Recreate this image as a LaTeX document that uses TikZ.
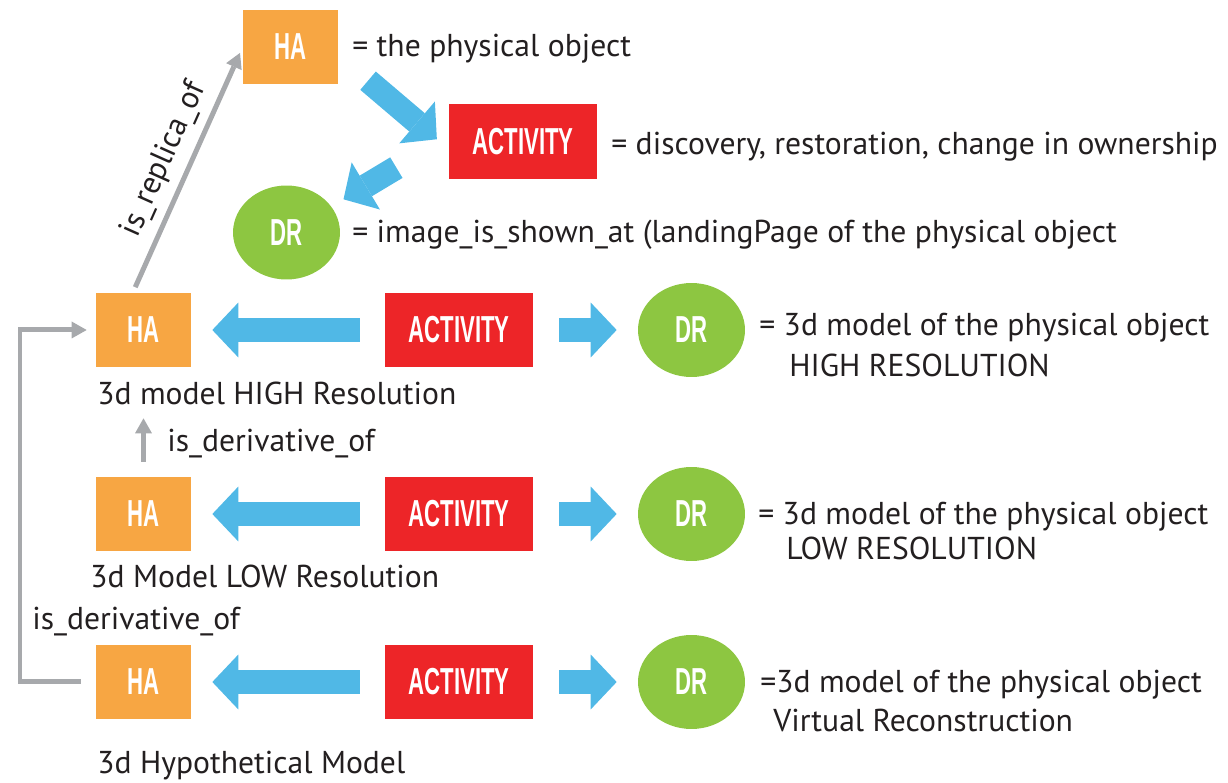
\documentclass[tikz,border=0pt]{standalone}
\usepackage{fontspec}
\setmainfont{PT Sans}
\newfontfamily\lblfont{Liberation Sans}
\usepackage{tikz}
\usetikzlibrary{arrows.meta,shapes.geometric}
\definecolor{haOrange}{RGB}{247,166,67}
\definecolor{actRed}{RGB}{237,37,40}
\definecolor{drGreen}{RGB}{141,198,65}
\definecolor{flowBlue}{RGB}{80,184,230}
\definecolor{linkGrey}{RGB}{167,169,172}
\definecolor{inkDark}{RGB}{35,31,32}
\newcommand{\boxtxt}[1]{\scalebox{0.59}[1]{\lblfont\bfseries #1}}

\begin{document}
\begin{tikzpicture}[x=0.02cm,y=-0.02cm,
  haBox/.style={fill=haOrange,minimum width=1.9cm,minimum height=1.48cm,inner sep=0pt,text=white,font=\fontsize{21.4}{24}\selectfont},
  actBox/.style={fill=actRed,minimum width=2.96cm,minimum height=1.5cm,inner sep=0pt,text=white,font=\fontsize{21.4}{24}\selectfont},
  drBlob/.style={ellipse,fill=drGreen,minimum width=2.14cm,minimum height=1.88cm,inner sep=0pt,text=white,font=\fontsize{21.4}{24}\selectfont},
  bigArrow/.style={flowBlue,line width=0.48cm,-{Triangle[width=1.1cm,length=0.52cm,line width=0pt]}},
  linkArrow/.style={linkGrey,line width=0.1cm,-{Triangle[width=0.34cm,length=0.3cm,line width=0pt]}},
  note/.style={anchor=base west,inner sep=0pt,text=inkDark,font=\fontsize{18}{21}\selectfont}]
\useasboundingbox (0,0) rectangle (1228,783);
\node[haBox] (ha0) at (290.5,47) {\boxtxt{HA}};
\node[actBox] (act0) at (523,141.5) {\boxtxt{ACTIVITY}};
\node[drBlob] (dr0) at (286.5,232.5) {\boxtxt{DR}};
\node[haBox] (ha1) at (143.5,330) {\boxtxt{HA}};
\node[actBox] (act1) at (459,330) {\boxtxt{ACTIVITY}};
\node[drBlob] (dr1) at (691.5,330) {\boxtxt{DR}};
\node[haBox] (ha2) at (143.5,514) {\boxtxt{HA}};
\node[actBox] (act2) at (459,514) {\boxtxt{ACTIVITY}};
\node[drBlob] (dr2) at (691.5,514) {\boxtxt{DR}};
\node[haBox] (ha3) at (143.5,682) {\boxtxt{HA}};
\node[actBox] (act3) at (459,682) {\boxtxt{ACTIVITY}};
\node[drBlob] (dr3) at (691.5,682) {\boxtxt{DR}};
\coordinate (bend) at (20,0);

\node[note] (d0) at (352,57) {= the physical object};
\node[note] (d1) at (611,155) {= discovery, restoration, change in ownership};
\node[note] (d2) at (352,243) {= image\_is\_shown\_at (landingPage of the physical object};
\node[note] (d3) at (759,336) {= 3d model of the physical object};
\node[note] (d3b) at (789,377) {HIGH RESOLUTION};
\node[note] (d4) at (758,525) {= 3d model of the physical object};
\node[note] (d4b) at (786,560) {LOW RESOLUTION};
\node[note] (d5) at (760,693) {=3d model of the physical object};
\node[note] (d5b) at (773,732) {Virtual Reconstruction};
\node[note] (n1) at (97,405) {3d model HIGH Resolution};
\node[note] (r1) at (167,452) {is\_derivative\_of};
\node[note] (n2) at (90,588) {3d Model LOW Resolution};
\node[note] (r2) at (32,630) {is\_derivative\_of};
\node[note] (n3) at (97,773) {3d Hypothetical Model};

\draw[bigArrow, shorten <=0.78cm, shorten >=0.31cm] (ha0.-10) -- (act0.186);
\draw[bigArrow, shorten <=1.22cm, shorten >=0.28cm] (act0.176) -- (dr0.30);
\draw[bigArrow, shorten <=0.5cm, shorten >=0.42cm] (act1.west) -- (ha1.east);
\draw[bigArrow, shorten <=0.52cm, shorten >=0.42cm] (act1.east) -- (dr1.west);
\draw[bigArrow, shorten <=0.5cm, shorten >=0.42cm] (act2.west) -- (ha2.east);
\draw[bigArrow, shorten <=0.52cm, shorten >=0.42cm] (act2.east) -- (dr2.west);
\draw[bigArrow, shorten <=0.5cm, shorten >=0.42cm] (act3.west) -- (ha3.east);
\draw[bigArrow, shorten <=0.52cm, shorten >=0.42cm] (act3.east) -- (dr3.west);

\draw[linkArrow, shorten <=0.12cm, shorten >=0.13cm] (ha1.106) -- (ha0.west)
  node[midway, sloped, above, inner sep=5pt, text=inkDark, font=\fontsize{18}{21}\selectfont] (rep) {is\_replica\_of};
\draw[linkArrow, shorten <=0.3cm, shorten >=1.02cm] (ha2.north) -- (ha1.south);
\draw[linkArrow, shorten <=0.3cm, shorten >=0.18cm] (ha3.west) -- (ha3.west -| bend) |- (ha1.west);
\end{tikzpicture}
\end{document}
